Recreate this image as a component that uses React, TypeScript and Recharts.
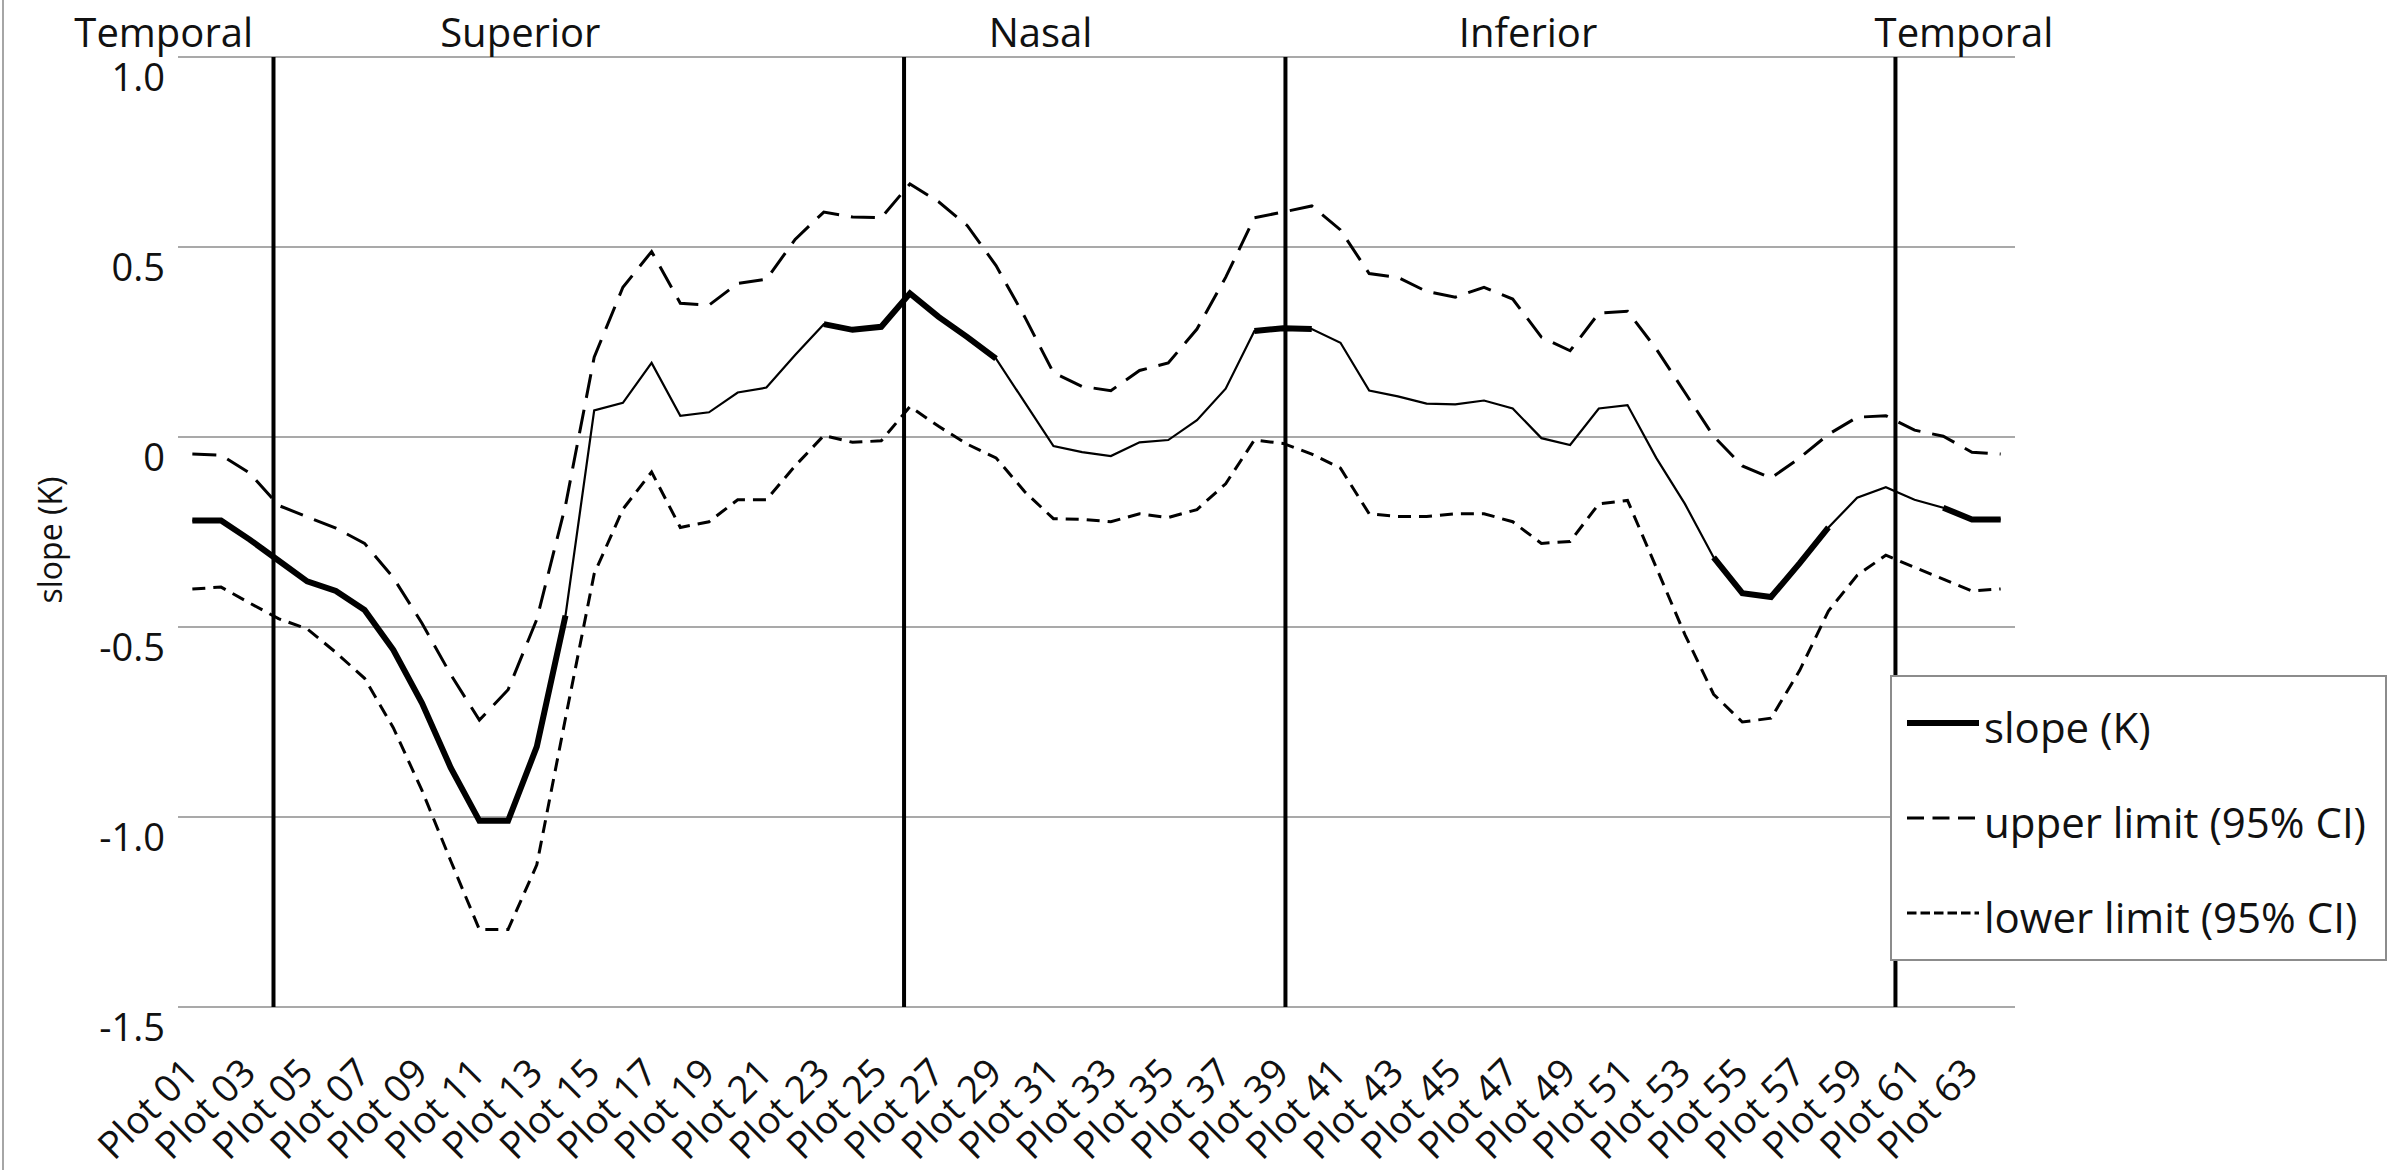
import React from 'react';
import {
  LineChart,
  Line,
  XAxis,
  YAxis,
  CartesianGrid,
  ReferenceLine,
  ReferenceArea,
  Legend,
} from 'recharts';

// 64 measurement plots around the disc
const plotNames = Array.from({ length: 64 }, (_, i) => `Plot ${String(i + 1).padStart(2, '0')}`);

const slope = [
  -0.22, -0.22, -0.27, -0.325, -0.38, -0.405, -0.455, -0.56, -0.7, -0.87,
  -1.01, -1.01, -0.815, -0.47, 0.07, 0.09, 0.195, 0.056, 0.065, 0.117,
  0.13, 0.216, 0.297, 0.282, 0.29, 0.378, 0.316, 0.263, 0.206, 0.091,
  -0.024, -0.04, -0.05, -0.014, -0.008, 0.044, 0.127, 0.279, 0.286, 0.284,
  0.248, 0.122, 0.107, 0.088, 0.086, 0.096, 0.075, -0.003, -0.021, 0.075,
  0.084, -0.055, -0.176, -0.317, -0.411, -0.421, -0.332, -0.238, -0.16, -0.132,
  -0.165, -0.186, -0.217, -0.217,
];

const upperLimit = [
  -0.045, -0.048, -0.095, -0.18, -0.21, -0.24, -0.28, -0.37, -0.49, -0.625,
  -0.745, -0.665, -0.48, -0.18, 0.21, 0.394, 0.488, 0.352, 0.347, 0.404,
  0.415, 0.52, 0.592, 0.579, 0.577, 0.666, 0.619, 0.556, 0.451, 0.316,
  0.169, 0.133, 0.122, 0.175, 0.195, 0.284, 0.42, 0.577, 0.592, 0.608,
  0.545, 0.43, 0.42, 0.383, 0.368, 0.394, 0.363, 0.263, 0.227, 0.326,
  0.331, 0.232, 0.117, 0.002, -0.076, -0.108, -0.055, 0.007, 0.052, 0.056,
  0.018, 0.002, -0.04, -0.045,
];

const lowerLimit = [
  -0.4, -0.395, -0.437, -0.478, -0.505, -0.567, -0.635, -0.765, -0.93, -1.115,
  -1.296, -1.296, -1.126, -0.74, -0.36, -0.19, -0.092, -0.238, -0.223, -0.165,
  -0.165, -0.076, 0.004, -0.014, -0.01, 0.08, 0.028, -0.019, -0.055, -0.144,
  -0.215, -0.217, -0.223, -0.202, -0.212, -0.191, -0.123, -0.008, -0.017, -0.045,
  -0.082, -0.202, -0.209, -0.209, -0.202, -0.202, -0.223, -0.28, -0.275, -0.176,
  -0.167, -0.343, -0.52, -0.677, -0.75, -0.74, -0.614, -0.458, -0.364, -0.311,
  -0.343, -0.374, -0.405, -0.4,
];

// 1 = slope drawn bold (significant), 0 = thin
const significant = [
  1, 1, 1, 1, 1, 1, 1, 1, 1, 1, 1, 1, 1, 1,
  0, 0, 0, 0, 0, 0, 0, 0,
  1, 1, 1, 1, 1, 1, 1,
  0, 0, 0, 0, 0, 0, 0, 0,
  1, 1, 1,
  0, 0, 0, 0, 0, 0, 0, 0, 0, 0, 0, 0, 0,
  1, 1, 1, 1, 1,
  0, 0, 0,
  1, 1, 1,
];

const yTicks = [-1.5, -1, -0.5, 0, 0.5, 1];
const yTickLabels = ['-1.5', '-1.0', '-0.5', '0', '0.5', '1.0'];

// sector boundaries and sector names, in plot-width units from the left edge
const sectorBounds = [3.275, 24.9, 37.98, 58.9];
const sectorNames = ['Temporal', 'Superior', 'Nasal', 'Inferior', 'Temporal'];
const sectorCenters = [-0.49, 11.74, 29.58, 46.3, 61.25];

const legendLabels = ['slope (K)', 'upper limit (95% CI)', 'lower limit (95% CI)'];

const data = plotNames.map((name, i) => ({
  name,
  slope: slope[i],
  slopeSig: significant[i] ? slope[i] : null,
  upper: upperLimit[i],
  lower: lowerLimit[i],
}));

const FONT = '"Open Sans", sans-serif';
const GRID = '#8c8c8c';

const XTick = (props: any) => {
  const { x, y, payload } = props;
  const tx = x + 8;
  const ty = y + 60;
  return (
    <text
      x={tx}
      y={ty}
      transform={`rotate(-45, ${tx}, ${ty})`}
      textAnchor="end"
      fontSize={38}
      fontFamily={FONT}
      fill="#111"
    >
      {payload.value}
    </text>
  );
};

const YTick = (props: any) => {
  const { x, y, payload } = props;
  const idx = yTicks.indexOf(payload.value);
  return (
    <text x={x - 5} y={y + 34} textAnchor="end" fontSize={38} fontFamily={FONT} fill="#111">
      {idx >= 0 ? yTickLabels[idx] : payload.value}
    </text>
  );
};

const legendStyles = [
  { width: 6, dash: undefined },
  { width: 3, dash: '17 8.5' },
  { width: 3, dash: '9.5 4' },
];

const renderLegend = () => (
  <svg width={497} height={286} style={{ display: 'block' }}>
    <rect x={1} y={1} width={495} height={284} fill="#fff" stroke={GRID} strokeWidth={2} />
    {legendLabels.map((label, k) => (
      <g key={label}>
        <line
          x1={17}
          x2={89}
          y1={48 + 95 * k}
          y2={48 + 95 * k}
          stroke="#000"
          strokeWidth={legendStyles[k].width}
          strokeDasharray={legendStyles[k].dash}
        />
        <text x={94} y={68 + 95 * k} fontSize={42} fontFamily={FONT} fill="#111">
          {label}
        </text>
      </g>
    ))}
  </svg>
);

export default function App() {
  return (
    <div
      style={{
        position: 'absolute',
        left: 0,
        top: 0,
        width: 2392,
        height: 1170,
        background: '#fff',
        fontFamily: FONT,
        overflow: 'hidden',
      }}
    >
      <div style={{ position: 'absolute', left: 2, top: 0, width: 2, height: 1170, background: '#a6a6a6' }} />
      <LineChart
        width={2392}
        height={1170}
        data={data}
        margin={{ top: 57, right: 377, bottom: 0, left: 0 }}
      >
        <CartesianGrid vertical={false} stroke={GRID} strokeWidth={1.5} />
        <XAxis
          dataKey="name"
          interval={1}
          height={163}
          padding={{ left: 14.35, right: 14.35 }}
          axisLine={false}
          tickLine={false}
          tick={<XTick />}
        />
        <XAxis xAxisId="num" type="number" domain={[0, 64]} hide />
        <YAxis
          domain={[-1.5, 1]}
          ticks={yTicks}
          width={178}
          axisLine={false}
          tickLine={false}
          tick={<YTick />}
        />
        <ReferenceArea
          xAxisId="num"
          x1={0}
          x2={64}
          y1={-1.5}
          y2={1}
          fill="none"
          stroke={GRID}
          strokeWidth={1.5}
        />
        {sectorBounds.map((b) => (
          <ReferenceLine key={b} xAxisId="num" x={b} stroke="#000" strokeWidth={4} />
        ))}
        {sectorCenters.map((c, k) => (
          <ReferenceLine
            key={`s${k}`}
            xAxisId="num"
            x={c}
            stroke="none"
            ifOverflow="visible"
            label={{
              value: sectorNames[k],
              position: 'top',
              offset: 10,
              fill: '#111',
              fontSize: 40,
              fontFamily: FONT,
            }}
          />
        ))}
        <Line
          type="linear"
          dataKey="upper"
          name="upper limit (95% CI)"
          stroke="#000"
          strokeWidth={3}
          strokeDasharray="24 12"
          dot={false}
          isAnimationActive={false}
        />
        <Line
          type="linear"
          dataKey="lower"
          name="lower limit (95% CI)"
          stroke="#000"
          strokeWidth={3}
          strokeDasharray="13 8"
          dot={false}
          isAnimationActive={false}
        />
        <Line
          type="linear"
          dataKey="slope"
          name="slope (K)"
          stroke="#000"
          strokeWidth={2.2}
          dot={false}
          isAnimationActive={false}
        />
        <Line
          type="linear"
          dataKey="slopeSig"
          stroke="#000"
          strokeWidth={6}
          dot={false}
          connectNulls={false}
          legendType="none"
          isAnimationActive={false}
        />
        <Legend
          content={renderLegend}
          layout="vertical"
          align="center"
          verticalAlign="middle"
          wrapperStyle={{ left: 1890, top: 675, width: 497, height: 286, right: 'auto', bottom: 'auto' }}
        />
      </LineChart>
      <div
        style={{
          position: 'absolute',
          left: 50,
          top: 540,
          transform: 'translate(-50%, -50%) rotate(-90deg)',
          fontSize: 32,
          lineHeight: 1,
          whiteSpace: 'nowrap',
          color: '#111',
        }}
      >
        slope (K)
      </div>
    </div>
  );
}
